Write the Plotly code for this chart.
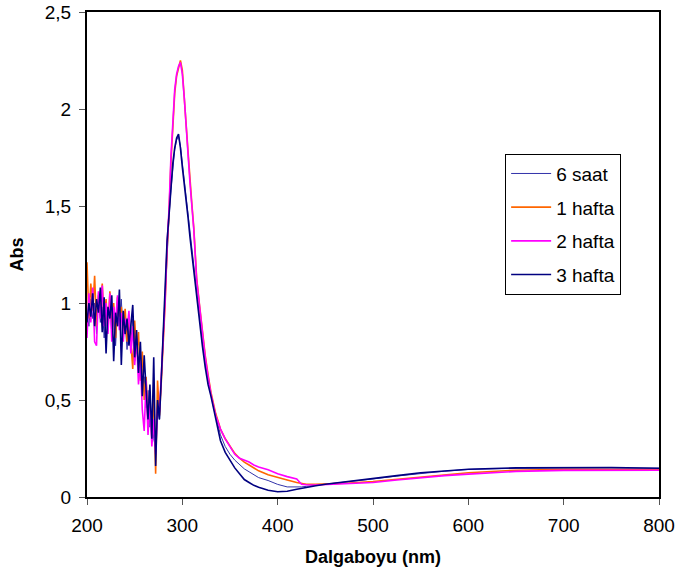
import plotly.graph_objects as go

wavelength = [200, 202, 204, 206, 208, 210, 212, 214, 216, 218, 220, 222, 224, 226, 228, 230,
              232, 234, 236, 238, 240, 242, 244, 246, 248, 250, 252, 254, 256, 258, 260, 262,
              264, 266, 268, 270, 272, 274, 276,
              278, 280, 282, 284, 286, 288, 290, 292, 294, 296, 298, 300, 302, 304, 306, 308,
              310, 312, 315, 318, 321, 324, 327, 330, 335, 340, 345, 350, 355, 360, 365, 370,
              375, 380, 390, 400, 410, 420, 425, 430, 440, 450, 475, 500, 525, 550, 575, 600,
              650, 700, 750, 800]

saat6 = [0.95, 0.88, 1.02, 0.92, 1.00, 0.84, 1.05, 0.90, 0.98, 0.82, 0.96, 0.90, 1.00, 0.84, 0.93, 0.78,
         0.97, 0.88, 1.02, 0.82, 0.90, 0.76, 0.88, 0.80, 0.92, 0.70, 0.80, 0.66, 0.74, 0.56, 0.62, 0.46,
         0.55, 0.36, 0.44, 0.30, 0.25, 0.45, 0.40,
         0.62, 0.84, 1.08, 1.30, 1.44, 1.58, 1.70, 1.79, 1.84, 1.86, 1.81, 1.72, 1.63, 1.56, 1.46, 1.36,
         1.27, 1.18, 1.05, 0.92, 0.80, 0.69, 0.60, 0.53, 0.42, 0.32, 0.26, 0.22, 0.19, 0.17, 0.145, 0.13,
         0.115, 0.10, 0.085, 0.065, 0.052, 0.05, 0.052, 0.055, 0.06, 0.066, 0.08, 0.093, 0.108, 0.122, 0.133, 0.142,
         0.148, 0.15, 0.15, 0.148]

hafta1 = [1.21, 0.92, 1.10, 0.96, 1.14, 0.88, 1.04, 0.97, 1.10, 0.90, 1.02, 0.86, 1.06, 0.90, 1.00, 0.82,
          1.03, 0.93, 0.98, 0.85, 0.97, 0.80, 0.94, 0.78, 0.66, 0.91, 0.74, 0.85, 0.60, 0.75, 0.50, 0.62,
          0.38, 0.52, 0.30, 0.55, 0.12, 0.60, 0.42,
          0.60, 0.80, 1.00, 1.28, 1.46, 1.72, 1.93, 2.08, 2.17, 2.22, 2.25, 2.20, 2.08, 1.92, 1.78, 1.63,
          1.51, 1.39, 1.13, 0.99, 0.85, 0.73, 0.63, 0.54, 0.43, 0.35, 0.30, 0.26, 0.225, 0.20, 0.18, 0.165,
          0.15, 0.135, 0.115, 0.10, 0.088, 0.075, 0.07, 0.066, 0.065, 0.066, 0.072, 0.08, 0.092, 0.104, 0.115, 0.125,
          0.138, 0.143, 0.142, 0.142]

hafta2 = [0.82, 1.05, 0.90, 1.08, 0.80, 0.78, 1.06, 0.92, 1.09, 0.88, 1.00, 0.84, 1.05, 0.80, 0.98, 0.90,
          1.04, 0.86, 0.95, 0.80, 0.92, 0.86, 0.96, 0.74, 0.88, 0.68, 0.82, 0.58, 0.70, 0.45, 0.34, 0.60,
          0.32, 0.50, 0.26, 0.40, 0.22, 0.46, 0.44,
          0.62, 0.82, 1.02, 1.30, 1.48, 1.75, 1.95, 2.10, 2.18, 2.22, 2.24, 2.18, 2.06, 1.90, 1.76, 1.62,
          1.50, 1.38, 1.12, 0.98, 0.84, 0.72, 0.62, 0.53, 0.42, 0.35, 0.30, 0.26, 0.22, 0.20, 0.19, 0.18,
          0.165, 0.155, 0.14, 0.12, 0.105, 0.093, 0.066, 0.063, 0.062, 0.064, 0.068, 0.075, 0.088, 0.10, 0.11, 0.118,
          0.132, 0.137, 0.138, 0.138]

hafta3 = [0.90, 1.00, 0.93, 1.05, 0.88, 1.02, 0.95, 1.08, 0.85, 1.03, 0.74, 0.98, 0.92, 1.04, 0.70, 0.95,
          0.88, 1.07, 0.68, 0.96, 0.84, 0.92, 0.78, 0.90, 0.99, 0.72, 0.86, 0.64, 0.80, 0.52, 0.73, 0.55,
          0.40, 0.58, 0.30, 0.72, 0.16, 0.50, 0.40,
          0.62, 0.85, 1.10, 1.32, 1.45, 1.60, 1.72, 1.80, 1.85, 1.87, 1.80, 1.70, 1.62, 1.55, 1.44, 1.34,
          1.25, 1.16, 1.03, 0.90, 0.78, 0.67, 0.58, 0.52, 0.40, 0.29, 0.23, 0.19, 0.15, 0.12, 0.09, 0.075,
          0.06, 0.05, 0.035, 0.027, 0.03, 0.04, 0.045, 0.05, 0.058, 0.066, 0.08, 0.093, 0.11, 0.125, 0.135, 0.143,
          0.15, 0.152, 0.152, 0.148]

series_names = ["6 saat", "1 hafta", "2 hafta", "3 hafta"]
series_values = [saat6, hafta1, hafta2, hafta3]
series_colors = ["#3333AA", "#FF6600", "#FF00FF", "#000080"]
series_widths = [1, 1.6, 1.6, 1.6]

x_ticks = [200, 300, 400, 500, 600, 700, 800]
y_ticks = [0, 0.5, 1, 1.5, 2, 2.5]

fig = go.Figure()
for name, vals, col, w in zip(series_names, series_values, series_colors, series_widths):
    fig.add_trace(go.Scatter(x=wavelength, y=vals, mode="lines", name=name, legendgroup=name,
                             line=dict(color=col, width=w)))

font_family = "Liberation Sans, Arial, sans-serif"
fig.update_layout(
    width=678, height=584,
    margin=dict(l=87, r=19, t=12, b=87),
    paper_bgcolor="white", plot_bgcolor="white",
    separators=", ",
    font=dict(family=font_family, color="black", size=19),
    showlegend=True,
    legend=dict(x=0.731, y=0.708, xanchor="left", yanchor="top",
                bordercolor="black", borderwidth=1, bgcolor="white",
                font=dict(size=19), itemwidth=40, tracegroupgap=6,
                traceorder="grouped"),
    xaxis=dict(range=[200, 800], tickvals=x_ticks, showgrid=False, zeroline=False,
               showline=True, linecolor="black", linewidth=2, mirror=True, automargin=False,
               ticks="outside", ticklen=6, tickcolor="#555555", tickwidth=1,
               ticklabelstandoff=4,
               title=dict(text="<b>Dalgaboyu (nm)</b>", font=dict(size=18), standoff=16)),
    yaxis=dict(range=[0, 2.5], tickvals=y_ticks, showgrid=False, zeroline=False,
               showline=True, linecolor="black", linewidth=2, mirror=True, automargin=False,
               ticks="outside", ticklen=6, tickcolor="#555555", tickwidth=1,
               ticklabelstandoff=4,
               title=dict(text="<b>Abs</b>", font=dict(size=18), standoff=16)),
)

fig.write_html("out.html")
